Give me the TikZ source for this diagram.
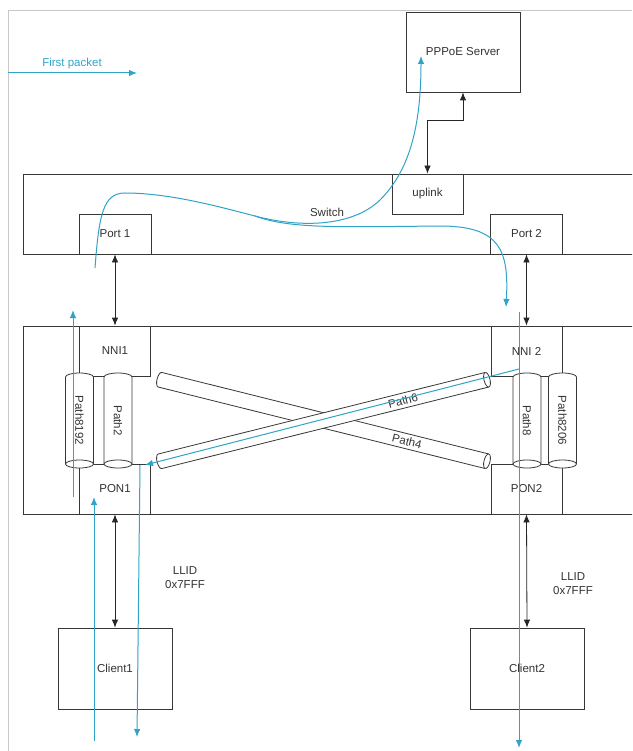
\documentclass[tikz,border=0pt]{standalone}
\usepackage{fontspec}
\setmainfont{Liberation Sans}
\usepackage{xcolor}
\usetikzlibrary{arrows.meta, positioning}

\definecolor{pktblue}{RGB}{48,164,200}
\definecolor{edge}{RGB}{55,55,55}
\definecolor{frame}{RGB}{200,200,200}

% tube: name, centre, angle, length, diameter, cap, text, text offset
\newcommand{\tube}[8]{%
	\begin{scope}[shift={(#2)}, rotate=#3]
		\filldraw[tubeline] ({-#4/2+#6},{-#5/2}) -- ({#4/2-#6},{-#5/2})
			arc[start angle=-90, end angle=90, x radius=#6, y radius=#5/2]
			-- ({-#4/2+#6},{#5/2})
			arc[start angle=90, end angle=270, x radius=#6, y radius=#5/2] -- cycle;
		\draw[tubeline] ({#4/2-#6},{#5/2}) arc[start angle=90, end angle=270, x radius=#6, y radius=#5/2];
		\node[txt, rotate=#3] (#1) at (#8,0) {#7};
	\end{scope}}

\begin{document}
\begin{tikzpicture}[x=1pt, y=-1pt, font=\fontsize{11.5}{14}\selectfont, >={Latex[length=8pt,width=6.5pt]}]
	% Styles
	\tikzstyle{box} = [draw=edge, fill=white, rectangle, line width=0.8pt, inner sep=0pt, text=black!80]
	\tikzstyle{tubeline} = [draw=edge, fill=white, line width=0.8pt]
	\tikzstyle{txt} = [inner sep=0pt, text=black!80, align=center]
	\tikzstyle{link} = [line width=0.8pt, draw=black!85, <->]
	\tikzstyle{pktline} = [line width=1pt, draw=pktblue]
	\tikzstyle{pkt} = [pktline, ->]

	\useasboundingbox (0,0) rectangle (632,751);
	\clip (0,0) rectangle (632,751);
	\draw[frame, line width=0.8pt] (8,751) -- (8,10) -- (632,10);

	% Nodes
	\node[txt, text=pktblue] (legend) at (72,64) {First packet};
	\node[box, minimum width=114pt, minimum height=80pt] (server) at (463,52) {PPPoE Server};

	\node[box, minimum width=622pt, minimum height=80pt] (switch) at (334,214) {};
	\node[box, minimum width=71pt, minimum height=40pt] (uplink) at (427.5,194) {uplink};
	\node[box, minimum width=72pt, minimum height=40pt] (port1) at (115,234) {Port 1};
	\node[box, minimum width=72pt, minimum height=40pt] (port2) at (526.5,234) {Port 2};
	\node[txt] (swlbl) at (327,212) {Switch};

	\node[box, minimum width=622pt, minimum height=188pt] (olt) at (334,420) {};
	\node[box, minimum width=71pt, minimum height=50pt] (nni1) at (115,351) {NNI1};
	\node[box, minimum width=71pt, minimum height=50pt] (nni2) at (526.5,351) {NNI 2};
	\node[box, minimum width=71pt, minimum height=50pt] (pon1) at (115,489) {PON1};
	\node[box, minimum width=71pt, minimum height=50pt] (pon2) at (526.5,489) {PON2};

	\tube{p8192}{79.5,420.5}{-90}{95}{28}{4}{Path8192}{0}
	\tube{p2}{118,420.5}{-90}{95}{28}{4}{Path2}{0}
	\tube{p8}{527,420.5}{-90}{95}{28}{4}{Path8}{0}
	\tube{p8206}{562.5,420.5}{-90}{95}{28}{4}{Path8206}{0}
	\tube{p4}{323.5,420.5}{-14}{343}{15}{3}{Path4}{86}
	\tube{p6}{323.5,420.5}{14}{343}{15}{3}{Path6}{82}

	\node[box, minimum width=114pt, minimum height=81pt] (client1) at (115,668.5) {Client1};
	\node[box, minimum width=114pt, minimum height=81pt] (client2) at (527,668.5) {Client2};
	\node[txt] (llid1) at (185,578) {LLID\\0x7FFF};
	\node[txt] (llid2) at (573,584) {LLID\\0x7FFF};

	% Connections
	\coordinate (srvbend) at (463,120);
	\draw[link] (server.south) -- (srvbend) -| (uplink.north);
	\draw[link] (port1.south) -- (nni1.north);
	\draw[link] (port2.south) -- (nni2.north);
	\draw[link] (pon1.south) -- (client1.north);
	\draw[link] (pon2.south) -- (client2.north);

	% First packet
	\coordinate (lg0) at (8,73);
	\coordinate (lg1) at (137,73);
	\draw[pkt] (lg0) -- (lg1);

	\coordinate (in1) at (94,741);
	\coordinate (in1e) at (94,497);
	\coordinate (up1) at (73,497);
	\coordinate (up1e) at (73,310);
	\coordinate (sw1) at (95,268);
	\coordinate (peak) at (125,193);
	\coordinate (split) at (255,216);
	\coordinate (srvtip) at (421,56);
	\coordinate (p2tip) at (506,307);
	\coordinate (dn2) at (519,312);
	\coordinate (dn2e) at (519,748);
	\coordinate (x6) at (519,369);
	\coordinate (x6e) at (145,465);
	\coordinate (dn1) at (140,465);
	\coordinate (dn1e) at (137,737);

	\draw[pkt] (in1) -- (in1e);
	\draw[pkt] (up1) -- (up1e);
	\draw[pktline] (sw1) .. controls (99,215) and (103,193) .. (peak) .. controls (170,193) and (220,207) .. (split);
	\draw[pkt] (split) .. controls (300,228) and (352,227) .. (380,200) .. controls (408,172) and (421,130) .. (srvtip);
	\draw[pkt] (split) .. controls (290,229) and (340,227) .. (440,226) .. controls (500,226) and (509,250) .. (p2tip);
	\draw[pkt] (dn2) -- (dn2e);
	\draw[pkt] (x6) -- (x6e);
	\draw[pkt] (dn1) -- (dn1e);
\end{tikzpicture}
\end{document}
